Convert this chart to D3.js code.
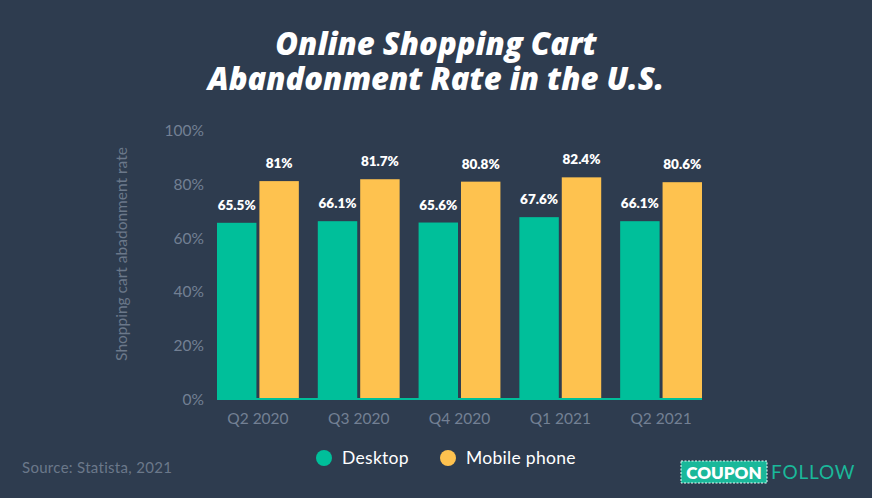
<!doctype html>
<html>
<head>
    <style>
        body { margin: 0; background: #2e3c4f; }
        svg { display: block; }
        text { font-family: "Lato", "Open Sans", sans-serif; }
        .tick text { fill: #738094; font-size: 15.5px; }
        .value { fill: #fff; font-weight: 800; font-size: 13.5px; }
    </style>
</head>
<body>
    <svg id="chart"></svg>
    <script src="https://cdnjs.cloudflare.com/ajax/libs/d3/7.8.5/d3.min.js"></script>
    <script>
        var quarters = ['Q2 2020', 'Q3 2020', 'Q4 2020', 'Q1 2021', 'Q2 2021'];
        var series = ['Desktop', 'Mobile phone'];
        var desktop = [65.5, 66.1, 65.6, 67.6, 66.1];
        var mobile = [81, 81.7, 80.8, 82.4, 80.6];
        var yTicks = [0, 20, 40, 60, 80, 100];
        var colors = ['#00bf9a', '#fec24f'];

        var width = 872, height = 498;
        var svg = d3.select('#chart').attr('width', width).attr('height', height);
        svg.append('rect').attr('width', width).attr('height', height).attr('fill', '#2e3c4f');

        var x = d3.scaleBand().domain(quarters).range([217, 702]).paddingInner(0.188).paddingOuter(0);
        var xs = d3.scaleBand().domain(series).range([0, x.bandwidth()]).paddingInner(0.07);
        var y = d3.scaleLinear().domain([0, 100]).range([399, 130]);
        var color = d3.scaleOrdinal().domain(series).range(colors);

        // title
        var title = svg.append('text')
                .attr('text-anchor', 'middle')
                .attr('fill', '#fff')
                .style('font-family', '"Open Sans", sans-serif')
                .style('font-size', '31px')
                .style('font-weight', 800)
                .style('font-style', 'italic');
        title.append('tspan').attr('x', 436).attr('y', 55).text('Online Shopping Cart');
        title.append('tspan').attr('x', 436).attr('y', 90).text('Abandonment Rate in the U.S.');

        // y axis
        svg.append('g')
                .attr('transform', 'translate(204,0)')
                .call(d3.axisLeft(y).tickValues(yTicks).tickSize(0).tickPadding(0).tickFormat(function(d) { return d + '%'; }))
                .call(function(g) { g.select('.domain').remove(); })
                .selectAll('text').attr('dy', '0.35em');

        svg.append('text')
                .attr('transform', 'translate(127,254) rotate(-90)')
                .attr('text-anchor', 'middle')
                .attr('fill', '#6b788a')
                .style('font-size', '15.5px')
                .text('Shopping cart abadonment rate');

        // x axis
        svg.append('g')
                .attr('transform', 'translate(0,399)')
                .call(d3.axisBottom(x).tickSize(0).tickPadding(14))
                .call(function(g) { g.select('.domain').remove(); });

        var rows = quarters.map(function(q, i) {
            return { quarter: q, values: [ { key: series[0], value: desktop[i] }, { key: series[1], value: mobile[i] } ] };
        });

        var groups = svg.selectAll('g.group')
                .data(rows)
                .enter().append('g')
                .attr('class', 'group')
                .attr('transform', function(d) { return 'translate(' + x(d.quarter) + ',0)'; });

        groups.selectAll('rect')
                .data(function(d) { return d.values; })
                .enter().append('rect')
                .attr('x', function(d) { return xs(d.key); })
                .attr('y', function(d) { return y(d.value); })
                .attr('width', xs.bandwidth())
                .attr('height', function(d) { return y(0) - y(d.value); })
                .attr('fill', function(d) { return color(d.key); });

        groups.selectAll('text.value')
                .data(function(d) { return d.values; })
                .enter().append('text')
                .attr('class', 'value')
                .attr('text-anchor', 'middle')
                .attr('x', function(d) { return xs(d.key) + xs.bandwidth() / 2; })
                .attr('y', function(d) { return y(d.value) - 13; })
                .text(function(d) { return d.value + '%'; });

        // baseline
        svg.append('line')
                .attr('x1', x.range()[0]).attr('x2', x.range()[1])
                .attr('y1', y(0)).attr('y2', y(0))
                .attr('stroke', '#00bf9a').attr('stroke-width', 2);

        // legend
        var legendX = [324, 448];
        var legend = svg.selectAll('g.legend')
                .data(series)
                .enter().append('g')
                .attr('class', 'legend')
                .attr('transform', function(d, i) { return 'translate(' + legendX[i] + ',458)'; });
        legend.append('circle').attr('r', 8).attr('fill', function(d) { return color(d); });
        legend.append('text')
                .attr('x', 18).attr('dy', '0.35em')
                .attr('fill', '#fff')
                .style('font-size', '17.5px')
                .style('letter-spacing', '0.3px')
                .text(function(d) { return d; });

        // source
        svg.append('text')
                .attr('x', 22).attr('y', 473)
                .attr('fill', '#6b788a')
                .style('font-size', '15px')
                .style('letter-spacing', '0.3px')
                .text('Source: Statista, 2021');

        // logo
        var logo = svg.append('g').attr('transform', 'translate(681,461)');
        logo.append('rect')
                .attr('width', 86).attr('height', 22)
                .attr('fill', '#1ab89a')
                .attr('stroke', '#e8fff8').attr('stroke-width', 1)
                .attr('stroke-dasharray', '2,1.5');
        logo.append('text')
                .attr('x', 43).attr('y', 18)
                .attr('text-anchor', 'middle')
                .attr('fill', '#fff')
                .style('font-size', '17px').style('font-weight', 800)
                .text('COUPON');
        logo.append('text')
                .attr('x', 90).attr('y', 18)
                .attr('fill', '#1ab89a')
                .style('font-size', '19px')
                .style('letter-spacing', '0.8px')
                .text('FOLLOW');
    </script>
</body>
</html>
